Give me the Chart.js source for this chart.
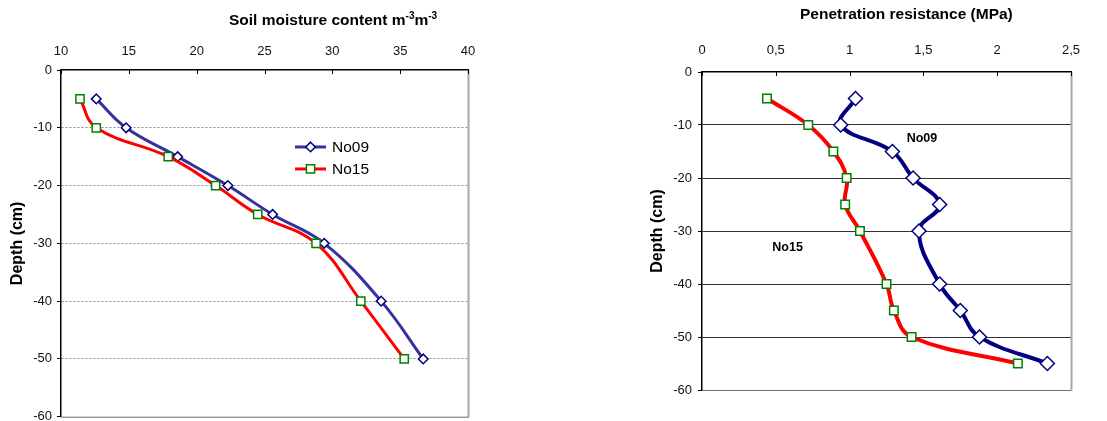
<!DOCTYPE html>
<html>
<head>
<meta charset="utf-8">
<script src="https://cdn.jsdelivr.net/npm/chart.js"></script>
<style>
  body { margin: 0; background: #fff; width: 1107px; height: 421px; position: relative; overflow: hidden;
         font-family: "Liberation Sans", Arial, sans-serif; }
  .box { position: absolute; top: 0; }
  .ttl { position: absolute; font-weight: bold; font-size: 15.5px; white-space: nowrap; color: #000; }
  .ttl sup { font-size: 10px; vertical-align: 6px; line-height: 0; }
</style>
</head>
<body>
<div class="box" style="left:0;width:550px;height:424px"><canvas id="moisture" width="550" height="424"></canvas></div>
<div class="box" style="left:560px;width:547px;height:421px"><canvas id="penetration" width="547" height="421"></canvas></div>
<div class="ttl" style="left:229px;top:11px">Soil moisture content m<sup>-3</sup>m<sup>-3</sup></div>
<div class="ttl" style="left:800px;top:5px">Penetration resistance (MPa)</div>
<script>
// left chart: soil moisture vs depth
var moistDepth = [-5, -10, -15, -20, -25, -30, -40, -50];
var moistNo09 = [12.6, 14.8, 18.6, 22.3, 25.6, 29.4, 33.6, 36.7];
var moistNo15 = [11.4, 12.6, 17.9, 21.4, 24.5, 28.8, 32.1, 35.3];

// right chart: penetration resistance vs depth
var penDepth = [-5, -10, -15, -20, -25, -30, -40, -45, -50, -55];
var penNo09 = [1.04, 0.94, 1.29, 1.43, 1.61, 1.47, 1.61, 1.75, 1.88, 2.34];
var penNo15 = [0.44, 0.72, 0.89, 0.98, 0.97, 1.07, 1.25, 1.30, 1.42, 2.14];

var seriesNames = ['No09', 'No15'];
// where the series names sit on the right chart (x in MPa, y in cm)
var penLabelX = [1.49, 0.58];
var penLabelY = [-12.6, -33.2];

var FONT = '"Liberation Sans", Arial, sans-serif';

function pts(xs, ys) {
  return xs.map(function (v, i) { return { x: v, y: ys[i] }; });
}

function marker(ctx, style, x, y, r, stroke, lw) {
  ctx.save();
  ctx.fillStyle = '#fff';
  ctx.strokeStyle = stroke;
  ctx.lineWidth = lw;
  ctx.beginPath();
  if (style == 'rectRot') {
    ctx.moveTo(x, y - r); ctx.lineTo(x + r, y); ctx.lineTo(x, y + r); ctx.lineTo(x - r, y);
  } else {
    var s = r * Math.SQRT1_2;
    ctx.rect(x - s, y - s, 2 * s, 2 * s);
  }
  ctx.closePath();
  ctx.fill();
  ctx.stroke();
  ctx.restore();
}

// grey right/bottom frame plus short inward ticks on the top axis
var frame = {
  id: 'frame',
  beforeDatasetsDraw: function (chart, args, opts) {
    var a = chart.chartArea, ctx = chart.ctx, sx = chart.scales.x;
    ctx.save();
    ctx.lineWidth = 1;
    ctx.strokeStyle = opts.bottomColor;
    ctx.beginPath(); ctx.moveTo(a.left, a.bottom + 0.5); ctx.lineTo(a.right + 1, a.bottom + 0.5); ctx.stroke();
    ctx.strokeStyle = opts.rightColor;
    ctx.lineWidth = 2;
    ctx.beginPath(); ctx.moveTo(a.right + 0.5, a.top); ctx.lineTo(a.right + 0.5, a.bottom + 1); ctx.stroke();
    ctx.strokeStyle = '#000';
    ctx.lineWidth = 1;
    sx.ticks.forEach(function (t) {
      var px = Math.round(sx.getPixelForValue(t.value)) + 0.5;
      ctx.beginPath(); ctx.moveTo(px, a.top); ctx.lineTo(px, a.top + 4); ctx.stroke();
    });
    ctx.restore();
  }
};

// Excel-like legend: line with marker, then name
var lineLegend = {
  id: 'lineLegend',
  afterDatasetsDraw: function (chart, args, opts) {
    if (!opts.show) return;
    var a = chart.chartArea, ctx = chart.ctx;
    var x = a.left + opts.x * (a.right - a.left);
    var y = a.top + opts.y * (a.bottom - a.top);
    chart.data.datasets.forEach(function (ds, i) {
      var yy = y + i * opts.gap;
      ctx.save();
      ctx.strokeStyle = ds.borderColor;
      ctx.lineWidth = ds.borderWidth;
      ctx.beginPath(); ctx.moveTo(x, yy); ctx.lineTo(x + opts.len, yy); ctx.stroke();
      ctx.restore();
      marker(ctx, ds.pointStyle, x + opts.len / 2, yy, ds.pointRadius, ds.pointBorderColor, ds.pointBorderWidth);
      ctx.save();
      ctx.fillStyle = '#000';
      ctx.font = '15.5px ' + FONT;
      ctx.textBaseline = 'middle';
      ctx.fillText(ds.label, x + opts.len + 6, yy + 1);
      ctx.restore();
    });
  }
};

// series names written inside the right chart
var seriesText = {
  id: 'seriesText',
  afterDatasetsDraw: function (chart, args, opts) {
    if (!opts.show) return;
    var ctx = chart.ctx, sx = chart.scales.x, sy = chart.scales.y;
    ctx.save();
    ctx.fillStyle = '#000';
    ctx.font = 'bold 12.5px ' + FONT;
    ctx.textAlign = 'center';
    ctx.textBaseline = 'middle';
    chart.data.datasets.forEach(function (ds, i) {
      ctx.fillText(ds.label, sx.getPixelForValue(penLabelX[i]), sy.getPixelForValue(penLabelY[i]));
    });
    ctx.restore();
  }
};

function comma(v) { return String(v).replace('.', ','); }

function makeChart(id, cfg) {
  return new Chart(document.getElementById(id).getContext('2d'), {
    type: 'scatter',
    data: {
      datasets: [{
        label: seriesNames[0],
        data: cfg.a,
        showLine: true,
        tension: 0.4,
        borderColor: cfg.blue,
        borderWidth: cfg.lw,
        pointStyle: 'rectRot',
        pointRadius: cfg.dr,
        pointHoverRadius: cfg.dr,
        pointBackgroundColor: '#fff',
        pointBorderColor: '#000080',
        pointBorderWidth: 1.5,
        order: 2
      }, {
        label: seriesNames[1],
        data: cfg.b,
        showLine: true,
        tension: 0.4,
        borderColor: '#ff0000',
        borderWidth: cfg.lw2,
        pointStyle: 'rect',
        pointRadius: cfg.sr,
        pointHoverRadius: cfg.sr,
        pointBackgroundColor: '#fff',
        pointBorderColor: '#008000',
        pointBorderWidth: 1.5,
        order: 1
      }]
    },
    options: {
      responsive: false,
      animation: false,
      layout: { padding: cfg.pad },
      plugins: {
        legend: { display: false },
        tooltip: { enabled: false },
        frame: { bottomColor: '#6e6e6e', rightColor: '#a8a8a8' },
        lineLegend: cfg.legend,
        seriesText: { show: cfg.texts }
      },
      scales: {
        x: {
          type: 'linear',
          position: 'top',
          min: cfg.xmin, max: cfg.xmax,
          ticks: { stepSize: cfg.xstep, padding: cfg.xpad, color: '#111', font: { size: 13, family: FONT }, callback: comma },
          grid: { drawOnChartArea: false, drawTicks: false },
          border: { color: '#000', width: 1.5 },
          afterFit: function (s) { s.height = cfg.xh; s.paddingLeft = 0; s.paddingRight = 0; }
        },
        y: {
          type: 'linear',
          min: -60, max: 0,
          ticks: { stepSize: 10, padding: cfg.ypad, color: '#111', font: { size: 13, family: FONT } },
          grid: {
            color: function (c) { return (c.tick && (c.tick.value == 0 || c.tick.value == -60)) ? 'rgba(0,0,0,0)' : cfg.gridColor; },
            tickColor: '#000',
            tickLength: 4,
            lineWidth: 1
          },
          border: { color: '#000', width: 1.5, dash: cfg.dash },
          title: { display: true, text: 'Depth (cm)', color: '#000', font: { size: 16, weight: 'bold', family: FONT }, padding: { top: cfg.ttlpad, bottom: 0 } },
          afterFit: function (s) { s.width = cfg.yw; s.paddingTop = 0; s.paddingBottom = 0; }
        }
      }
    },
    plugins: [frame, lineLegend, seriesText]
  });
}

var moistChart = makeChart('moisture', {
  a: pts(moistNo09, moistDepth), b: pts(moistNo15, moistDepth),
  blue: '#333399', lw: 3, lw2: 3, dr: 4.8, sr: 5.8,
  pad: { left: 0, top: 0, right: 82, bottom: 5 },
  xmin: 10, xmax: 40, xstep: 5, xpad: 11, xh: 70,
  ypad: 5, yw: 61, ttlpad: 8,
  gridColor: '#8c8c8c', dash: [2, 2],
  legend: { show: true, x: 0.575, y: 0.222, gap: 22, len: 31 },
  texts: false
});

var penChart = makeChart('penetration', {
  a: pts(penNo09, penDepth), b: pts(penNo15, penDepth),
  blue: '#000080', lw: 4, lw2: 4, dr: 7, sr: 6,
  pad: { left: 85, top: 0, right: 36, bottom: 31 },
  xmin: 0, xmax: 2.5, xstep: 0.5, xpad: 14, xh: 72,
  ypad: 6, yw: 57, ttlpad: 3,
  gridColor: '#333333', dash: [],
  legend: { show: false },
  texts: true
});
</script>
</body>
</html>
